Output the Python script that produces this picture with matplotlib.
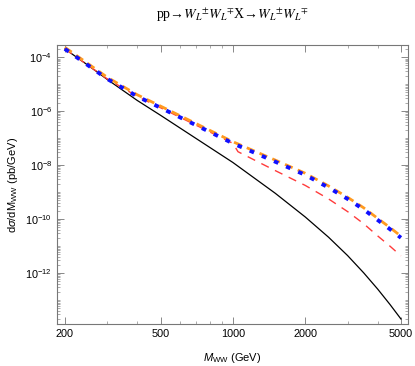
import numpy as np
import matplotlib
matplotlib.use("Agg")
import matplotlib.pyplot as plt
from matplotlib.ticker import FixedLocator, NullFormatter

# Data (log10 of dsigma/dM)
m_black = [200, 250, 300, 400, 500, 700, 1000, 1500, 2000, 2500, 3000, 3500, 4000, 4500, 5000]
y_black = [-3.69, -4.30, -4.82, -5.60, -6.15, -7.00, -7.90, -9.04, -9.92, -10.67, -11.35, -11.99, -12.59, -13.16, -13.70]

m_blue = [200, 250, 300, 400, 500, 700, 1000, 1500, 2000, 2500, 3000, 3500, 4000, 4500, 5000]
y_blue = [-3.69, -4.30, -4.80, -5.45, -5.87, -6.51, -7.19, -7.87, -8.36, -8.83, -9.25, -9.64, -10.03, -10.37, -10.69]

m_orange = m_blue
y_orange = [v + 0.06 for v in y_blue]

m_red = [200, 250, 300, 400, 500, 700, 1000, 1050, 1500, 2000, 2500, 3000, 3500, 4000, 4500, 5000]
y_red = [-3.69, -4.30, -4.80, -5.45, -5.87, -6.51, -7.19, -7.50, -8.20, -8.75, -9.25, -9.72, -10.17, -10.62, -11.00, -11.36]

xticks = [200, 500, 1000, 2000, 5000]
xtick_labels = ["200", "500", "1000", "2000", "5000"]
yticks = [1e-4, 1e-6, 1e-8, 1e-10, 1e-12]
ytick_labels = [r"$10^{-4}$", r"$10^{-6}$", r"$10^{-8}$", r"$10^{-10}$", r"$10^{-12}$"]

plt.rcParams['font.family'] = ['Liberation Sans', 'DejaVu Sans']
plt.rcParams['mathtext.fontset'] = 'custom'
plt.rcParams['mathtext.rm'] = 'Liberation Sans'
plt.rcParams['mathtext.it'] = 'Liberation Sans:italic'

fig = plt.figure(figsize=(4.15, 3.66), dpi=100)
ax = fig.add_axes([57/415, 1-324/366, (408-57)/415, (324-45)/366])

ax.plot(m_black, 10**np.array(y_black), color='black', lw=0.9)
ax.plot(m_red, 10**np.array(y_red), color='#ff3b3b', lw=1.0, dashes=(6, 5))
ax.plot(m_orange, 10**np.array(y_orange), color='#ff9a1f', lw=2.0, dashes=(3, 2))
ax.plot(m_blue, 10**np.array(y_blue), color='#1010ff', lw=2.8, dashes=(1.2, 2.2))

ax.set_xscale('log')
ax.set_yscale('log')
ax.set_xlim(185.5, 5350)
ax.set_ylim(1.3e-14, 2.85e-4)

ax.xaxis.set_major_locator(FixedLocator(xticks))
ax.set_xticklabels(xtick_labels)
ax.xaxis.set_minor_locator(FixedLocator([300, 400, 600, 700, 800, 900, 3000, 4000]))
ax.xaxis.set_minor_formatter(NullFormatter())

ax.yaxis.set_major_locator(FixedLocator(yticks))
ax.set_yticklabels(ytick_labels)
ax.yaxis.set_minor_locator(FixedLocator([10.0**k for k in range(-13, -3)] +
                                        [s * 10.0**k for k in range(-14, -3) for s in range(2, 10)]))
ax.yaxis.set_minor_formatter(NullFormatter())

for sp in ax.spines.values():
    sp.set_color('#777777')
    sp.set_linewidth(0.8)
ax.tick_params(which='both', direction='in', top=True, right=True, colors='#888888',
               labelcolor='black', labelsize=7.8)
ax.tick_params(which='major', length=5, width=0.7)
ax.tick_params(which='minor', length=2.5, width=0.5)

ax.set_xlabel(r"$M_{\mathrm{WW}}$ (GeV)", fontsize=8, labelpad=9)
ax.set_ylabel(r"d$\sigma$/dM$_{\mathrm{WW}}$ (pb/GeV)", fontsize=8)

fig.text(232/415, 1-15/366,
         "pp\u2192$W_L$${}^{\\pm}$$W_L$${}^{\\mp}$X\u2192$W_L$${}^{\\pm}$$W_L$${}^{\\mp}$",
         ha='center', va='center', fontsize=10, family='Liberation Serif',
         math_fontfamily='stix')

fig.savefig('out.png', dpi=100)
